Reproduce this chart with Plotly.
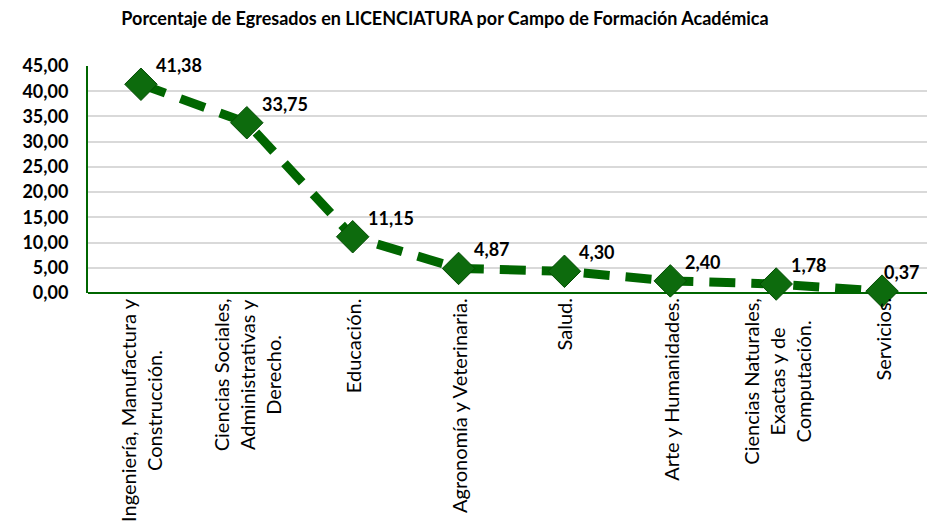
import plotly.graph_objects as go

# Porcentaje de egresados por campo de formación
campos = [
    "Ingeniería, Manufactura y<br>Construcción.",
    "Ciencias Sociales,<br>Administrativas y<br>Derecho.",
    "Educación.",
    "Agronomía y Veterinaria.",
    "Salud.",
    "Arte y Humanidades.",
    "Ciencias Naturales,<br>Exactas y de<br>Computación.",
    "Servicios.",
]
porcentajes = [41.38, 33.75, 11.15, 4.87, 4.30, 2.40, 1.78, 0.37]
etiquetas = [f"{v:.2f}".replace(".", ",") for v in porcentajes]

verde = "#006600"
fuente = "Lato"

fig = go.Figure()

fig.add_trace(go.Scatter(
    x=campos,
    y=porcentajes,
    mode="lines+markers",
    line=dict(color=verde, width=9, dash="26px,16px"),
    marker=dict(symbol="diamond", size=25, color="#0d6b0d",
                line=dict(color="#044d04", width=1)),
    cliponaxis=False,
    showlegend=False,
))

# etiquetas de datos arriba a la derecha (la última se pega al punto para no salirse)
n = len(campos)
for i, (c, v, t) in enumerate(zip(campos, porcentajes, etiquetas)):
    fig.add_annotation(
        x=c, y=v, text=f"<b>{t}</b>", showarrow=False,
        xanchor="left", yanchor="middle",
        xshift=13 if i < n - 1 else 0, yshift=19,
        font=dict(family=fuente, size=18, color="black"),
    )

# etiquetas de categoría giradas y centradas bajo cada punto
for c in campos:
    fig.add_annotation(
        x=c, xref="x", y=0, yref="paper",
        text=c, textangle=-90, showarrow=False,
        xanchor="center", yanchor="top", align="center",
        yshift=-3,
        font=dict(family=fuente, size=20, color="black"),
    )

# la página añade 8px de margen, por eso la figura es algo menor que la ventana
fig.update_layout(
    width=927,
    height=513,
    margin=dict(l=80, r=0, t=58, b=228, autoexpand=False),
    paper_bgcolor="white",
    plot_bgcolor="white",
    separators=",.",
    title=dict(
        text="<b>Porcentaje de Egresados en LICENCIATURA por Campo de Formación Académica</b>",
        x=0.4714, xanchor="center", y=0.98, yanchor="middle",
        font=dict(family=fuente, size=18, color="black"),
    ),
    xaxis=dict(
        range=[-0.5, n - 0.5],
        showticklabels=False,
        showline=False,
        showgrid=False,
        ticks="",
        automargin=False,
    ),
    yaxis=dict(
        range=[0, 45],
        dtick=5,
        tickformat=".2f",
        tickfont=dict(family=fuente, size=18, color="black", weight="bold"),
        showline=True,
        linecolor=verde,
        linewidth=2,
        gridcolor="#d9d9d9",
        gridwidth=1.5,
        zeroline=True,
        zerolinecolor=verde,
        zerolinewidth=2,
        ticks="",
        ticklabelstandoff=14,
        automargin=False,
    ),
)

fig.write_html("out.html")
